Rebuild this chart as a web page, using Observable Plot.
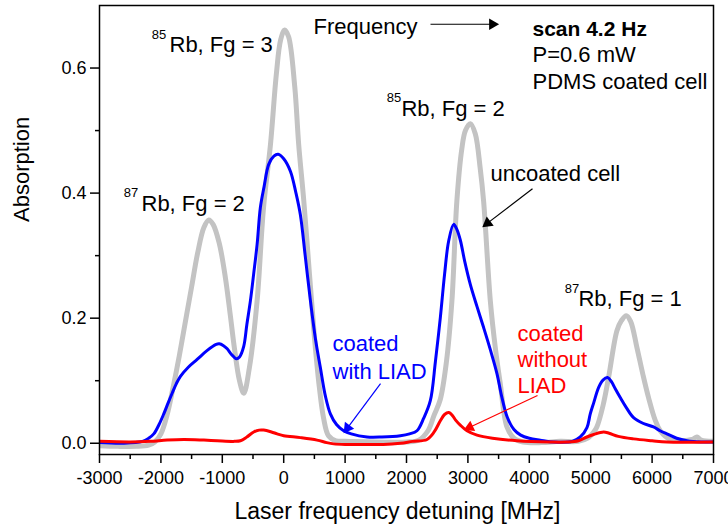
<!DOCTYPE html>
<html><head><meta charset="utf-8">
<script src="https://cdn.jsdelivr.net/npm/d3@7"></script>
<script src="https://cdn.jsdelivr.net/npm/@observablehq/plot@0.6"></script>
<style>body{margin:0;background:#fff} svg{font-family:"Liberation Sans",Arial,sans-serif}</style>
</head><body><div id="chart"></div>
<script>
// ---- data ----
const uncX = [-3000,-2700,-2400,-2200,-2100,-2000,-1900,-1800,-1700,-1600,-1500,-1400,-1300,-1220,-1150,-1050,-950,-870,-800,-720,-650,-560,-433,-330,-215,-120,-50,16,80,180,244,327,420,500,580,650,730,850,1000,1500,2000,2200,2350,2450,2550,2650,2740,2820,2900,2960,3040,3120,3200,3256,3365,3450,3528,3636,3750,3900,4200,4500,4800,4950,5050,5100,5200,5291,5427,5500,5579,5650,5753,5850,5942,6050,6132,6295,6500,6650,6730,6800,7000];
const uncY = [-0.004,-0.005,-0.005,-0.003,0.002,0.015,0.045,0.09,0.14,0.195,0.25,0.305,0.345,0.357,0.35,0.32,0.265,0.205,0.15,0.10,0.08,0.12,0.228,0.375,0.478,0.59,0.645,0.661,0.65,0.57,0.478,0.388,0.27,0.17,0.09,0.04,0.012,0.004,0.003,0.002,0.002,0.005,0.02,0.045,0.07,0.13,0.228,0.387,0.47,0.50,0.511,0.495,0.44,0.387,0.228,0.15,0.095,0.026,0.008,0.002,0.001,0.003,0.003,0.008,0.018,0.026,0.06,0.105,0.18,0.196,0.204,0.195,0.153,0.11,0.073,0.037,0.02,0.006,0.004,0.006,0.01,0.005,0.003];

const liadX = [-3000,-2600,-2300,-2200,-2116,-2030,-1953,-1880,-1817,-1750,-1682,-1550,-1410,-1250,-1100,-1050,-980,-920,-850,-770,-720,-651,-600,-542,-490,-433,-380,-320,-244,-160,-91,0,109,200,272,350,435,520,597,680,760,860,977,1100,1357,1600,1900,2050,2171,2280,2388,2470,2551,2620,2686,2767,2820,2876,2950,3039,3150,3256,3370,3474,3550,3640,3750,3860,4000,4179,4400,4700,4830,4939,4993,5050,5128,5200,5275,5340,5400,5481,5580,5698,5850,6023,6130,6241,6400,6567,6800,7000];
const liadY = [0.001,0.0,0.003,0.008,0.015,0.03,0.047,0.065,0.08,0.095,0.107,0.122,0.134,0.148,0.158,0.159,0.156,0.151,0.142,0.135,0.138,0.155,0.19,0.228,0.27,0.318,0.377,0.41,0.446,0.459,0.462,0.455,0.435,0.40,0.365,0.30,0.228,0.165,0.121,0.075,0.047,0.03,0.02,0.015,0.01,0.01,0.012,0.015,0.02,0.04,0.068,0.13,0.201,0.27,0.323,0.350,0.342,0.325,0.29,0.254,0.218,0.185,0.148,0.111,0.075,0.042,0.022,0.013,0.008,0.005,0.002,0.003,0.01,0.025,0.047,0.065,0.089,0.101,0.105,0.098,0.087,0.073,0.057,0.041,0.032,0.026,0.02,0.015,0.008,0.004,0.002,0.002];

const noLiadX = [-3000,-2500,-2170,-1900,-1628,-1300,-1084,-800,-705,-600,-488,-400,-326,-200,-107,0,272,543,700,814,1000,1357,1623,1900,2100,2334,2450,2551,2620,2689,2750,2800,2876,2985,3148,3400,3799,4341,4613,4800,4939,5050,5209,5300,5450,5698,6000,6241,7000];
const noLiadY = [0.003,0.002,0.003,0.005,0.006,0.005,0.004,0.003,0.004,0.01,0.018,0.021,0.021,0.018,0.015,0.012,0.009,0.005,0.001,-0.001,-0.002,-0.002,-0.002,0.0,0.003,0.006,0.018,0.036,0.046,0.049,0.044,0.037,0.029,0.02,0.013,0.008,0.004,0.002,0.002,0.004,0.01,0.014,0.018,0.016,0.011,0.007,0.004,0.002,0.002];

const xMajor = [-3000,-2000,-1000,0,1000,2000,3000,4000,5000,6000,7000];
const xMinor = [-2500,-1500,-500,500,1500,2500,3500,4500,5500,6500];
const yMajor = [0.0,0.2,0.4,0.6];
const yMinor = [0.1,0.3,0.5];

// peak labels
const peakText = ["Rb, Fg = 3","Rb, Fg = 2","Rb, Fg = 2","Rb, Fg = 1"];
const peakX = [-1860,-2316,1918,4800];
const peakY = [0.625,0.372,0.524,0.220];
const isoText = ["85","87","85","87"];
const isoX = [-2150,-2606,1678,4577];
const isoY = [0.647,0.393,0.545,0.241];

// info text
const titleText = ["scan 4.2 Hz"];
const infoText = ["P=0.6 mW","PDMS coated cell"];
const infoX = [4052,4052];
const infoY = [0.609,0.566];
const titleX = [4052], titleY = [0.652];

// curve labels
const curveText = ["Frequency","uncoated cell","coated","with LIAD","coated","without","LIAD"];
const curveColor = ["black","black","#0000ff","#0000ff","#ff0000","#ff0000","#ff0000"];
const curveX = [485,3368,795,795,3808,3808,3808];
const curveY = [0.655,0.419,0.147,0.1035,0.164,0.1225,0.081];

// arrows
const arrX1 = [2391,4052,1577,4134];
const arrY1 = [0.670,0.407,0.0955,0.0763];
const arrX2 = [3400,3320,1040,3030];
const arrY2 = [0.670,0.352,0.0245,0.0255];
const arrColor = ["black","black","#0000ff","#ff0000"];

// ---- build ----
const series = [
  ...uncX.map((x,i)=>({x, y:uncY[i], s:"uncoated"})),
  ...liadX.map((x,i)=>({x, y:liadY[i], s:"liad"})),
  ...noLiadX.map((x,i)=>({x, y:noLiadY[i], s:"noliad"}))
];
const styleOf = {uncoated:{c:"#c3c3c3",w:5}, liad:{c:"#0000ff",w:3}, noliad:{c:"#ff0000",w:3}};
const marginLeft=99, marginRight=15, marginTop=5, marginBottom=72, W=728, H=526;
const xDom=[-3000,7000], yDom=[-0.018,0.7];
const sx = d3.scaleLinear(xDom,[marginLeft,W-marginRight]);
const sy = d3.scaleLinear(yDom,[H-marginBottom,marginTop]);

const peaks = peakText.map((t,i)=>({t,x:peakX[i],y:peakY[i]}));
const isos = isoText.map((t,i)=>({t,x:isoX[i],y:isoY[i]}));
const infos = infoText.map((t,i)=>({t,x:infoX[i],y:infoY[i]}));
const titles = titleText.map((t,i)=>({t,x:titleX[i],y:titleY[i]}));
const curves = curveText.map((t,i)=>({t,c:curveColor[i],x:curveX[i],y:curveY[i]}));
const arrows = arrX1.map((x1,i)=>{
  const dxp = sx(arrX2[i])-sx(x1), dyp = sy(arrY2[i])-sy(arrY1[i]);
  const ang = Math.atan2(dyp,dxp)*180/Math.PI;
  return {x1,y1:arrY1[i],x2:arrX2[i],y2:arrY2[i],c:arrColor[i],rot:ang+90};
});

const font = '"Liberation Sans",Arial,sans-serif';
const chart = Plot.plot({
  width:W, height:H, marginLeft, marginRight, marginTop, marginBottom,
  style:{fontFamily:font, background:"white", color:"black"},
  x:{domain:xDom}, y:{domain:yDom},
  marks:[
    ...["uncoated","liad","noliad"].map(k => Plot.line(series.filter(d=>d.s===k), {x:"x", y:"y", stroke:styleOf[k].c, strokeWidth:styleOf[k].w, curve:"catmull-rom", clip:true})),
    Plot.axisX({ticks:xMajor, tickSize:9, tickPadding:8, fontSize:18, strokeWidth:1.5, tickFormat:d=>String(d), label:null}),
    Plot.axisX({ticks:xMinor, tickSize:5, strokeWidth:1.5, tickFormat:()=>"", label:null}),
    Plot.axisY({ticks:yMajor, tickSize:9, tickPadding:4, fontSize:18, strokeWidth:1.5, tickFormat:d3.format(".1f"), label:null}),
    Plot.axisY({ticks:yMinor, tickSize:4, strokeWidth:1.5, tickFormat:()=>"", label:null}),
    Plot.frame({stroke:"black", strokeWidth:1.5}),
    Plot.text(["Laser frequency detuning [MHz]"], {frameAnchor:"bottom", dx:-9, dy:64, lineAnchor:"bottom", fontSize:23, fill:"black"}),
    Plot.text(["Absorption"], {frameAnchor:"left", rotate:-90, dx:-78, dy:-8, fontSize:22, fill:"black"}),
    Plot.text(peaks, {x:"x", y:"y", text:"t", textAnchor:"start", lineAnchor:"bottom", fontSize:22, fill:"black"}),
    Plot.text(isos, {x:"x", y:"y", text:"t", textAnchor:"start", lineAnchor:"bottom", fontSize:13, fill:"black"}),
    Plot.text(titles, {x:"x", y:"y", text:"t", textAnchor:"start", lineAnchor:"bottom", fontSize:21, fontWeight:"bold", fill:"black"}),
    Plot.text(infos, {x:"x", y:"y", text:"t", textAnchor:"start", lineAnchor:"bottom", fontSize:22, fill:"black"}),
    Plot.text(curves, {x:"x", y:"y", text:"t", textAnchor:"start", lineAnchor:"bottom", fontSize:22, fill:"c"}),
    Plot.link(arrows, {x1:"x1", y1:"y1", x2:"x2", y2:"y2", stroke:"c", strokeWidth:1.2}),
    Plot.dot(arrows, {x:"x2", y:"y2", symbol:"triangle2", r:5.5, fill:"c", stroke:null, rotate:"rot"})
  ]
});
document.getElementById("chart").appendChild(chart);
</script></body></html>
